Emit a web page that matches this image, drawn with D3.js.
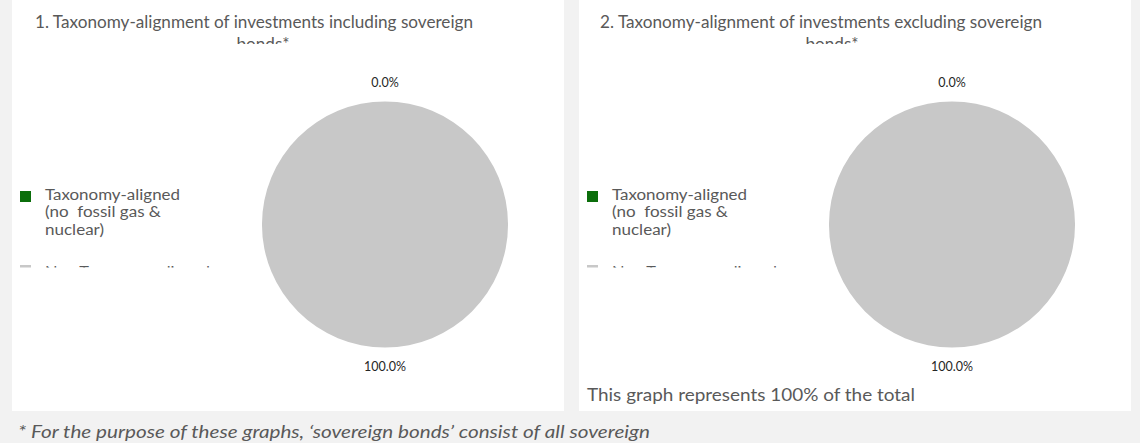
<!DOCTYPE html>
<html>
<head>
<meta charset="utf-8">
<script src="https://cdn.jsdelivr.net/npm/d3@7"></script>
<style>
  body { margin: 0; background: #f2f2f2; }
  text { font-family: Lato, "Open Sans", sans-serif; white-space: pre; }
</style>
</head>
<body>
<div id="chart"></div>
<script>
let categories = ["Taxonomy-aligned (no fossil gas & nuclear)", "Non Taxonomy-aligned"];
let legend_lines = [["Taxonomy-aligned", "(no  fossil gas &", "nuclear)"], ["Non Taxonomy-aligned"]];
let including_values = [0.0, 100.0];
let excluding_values = [0.0, 100.0];
let titles = [
    ["1. Taxonomy-alignment of investments including sovereign", "bonds*"],
    ["2. Taxonomy-alignment of investments excluding sovereign", "bonds*"]
];
let note_text = "This graph represents 100% of the total";
let footnote_text = "* For the purpose of these graphs, \u2018sovereign bonds\u2019 consist of all sovereign";

let color = d3.scaleOrdinal().domain(categories).range(["#0b6e0b", "#c8c8c8"]);

let svg = d3.select("div#chart")
    .append("svg")
    .attr("width", 1140)
    .attr("height", 443);

svg.append("rect").attr("width", 1140).attr("height", 443).attr("fill", "#f2f2f2");

let _default = {
    panel_y: 0,
    panel_w: 552,
    panel_h: 411,
    pie_r: 123,
    label_r: 142,
    text_color: "#595959"
};

// fit a text to the width measured on the reference
let fit = (sel, w) => sel.attr("textLength", w).attr("lengthAdjust", "spacingAndGlyphs");

let panels = [
    {x: 12, values: including_values, title: titles[0], title_w: 438, title_cx: 254, line2_cx: 263, pie_cx: 385},
    {x: 579, values: excluding_values, title: titles[1], title_w: 442, title_cx: 821, line2_cx: 832, pie_cx: 952}
];

let pie = d3.pie().sort(null).value(d => d);
let arc = d3.arc().innerRadius(0).outerRadius(_default.pie_r);
let label_arc = d3.arc().innerRadius(_default.label_r).outerRadius(_default.label_r);
let pie_cy = 224.5;

panels.forEach((p, pi) => {
    svg.append("rect")
        .attr("x", p.x).attr("y", _default.panel_y)
        .attr("width", _default.panel_w).attr("height", _default.panel_h)
        .attr("fill", "white");

    // title, clipped below the first line like the original
    let clip_t = "clipT" + pi;
    svg.append("clipPath").attr("id", clip_t)
        .append("rect").attr("x", p.x).attr("y", 0).attr("width", _default.panel_w).attr("height", 44);
    let tg = svg.append("g").attr("clip-path", `url(#${clip_t})`);
    tg.append("text")
        .attr("x", p.title_cx).attr("y", 28)
        .attr("text-anchor", "middle")
        .attr("font-size", 18)
        .attr("fill", _default.text_color)
        .text(p.title[0])
        .call(fit, p.title_w);
    tg.append("text")
        .attr("x", p.line2_cx).attr("y", 50)
        .attr("text-anchor", "middle")
        .attr("font-size", 18)
        .attr("fill", _default.text_color)
        .text(p.title[1])
        .call(fit, 53);

    // legend, clipped at the second item
    let clip_l = "clipL" + pi;
    svg.append("clipPath").attr("id", clip_l)
        .append("rect").attr("x", p.x).attr("y", 150).attr("width", 230).attr("height", 117.5);
    let lg = svg.append("g").attr("clip-path", `url(#${clip_l})`);
    let lx = p.x + 8;
    let item_y = [191, 265];
    let text_dy = [8.5, 11.5];
    let line_w = [[135, 116, 59], [165]];
    categories.forEach((c, ci) => {
        lg.append("rect")
            .attr("x", lx).attr("y", item_y[ci])
            .attr("width", 11).attr("height", 11)
            .attr("fill", color(c));
        legend_lines[ci].forEach((ln, li) => {
            lg.append("text")
                .attr("x", lx + 25).attr("y", item_y[ci] + text_dy[ci] + li * 17.5)
                .attr("font-size", 14.5)
                .attr("fill", _default.text_color)
                .text(ln)
                .call(fit, line_w[ci][li]);
        });
    });

    // pie
    let g = svg.append("g").attr("transform", `translate(${p.pie_cx}, ${pie_cy})`);
    let arcs = pie(p.values);
    g.selectAll("path").data(arcs).enter().append("path")
        .attr("d", arc)
        .attr("fill", (d, i) => color(categories[i]));
    g.selectAll("text").data(arcs).enter().append("text")
        .attr("transform", d => `translate(${label_arc.centroid(d)})`)
        .attr("text-anchor", "middle")
        .attr("dy", "0.35em")
        .attr("font-size", 12.5)
        .attr("fill", "#262626")
        .text(d => d3.format(".1f")(d.data) + "%");
});

svg.append("text")
    .attr("x", 587).attr("y", 401)
    .attr("font-size", 17)
    .attr("fill", _default.text_color)
    .text(note_text)
    .call(fit, 328);

svg.append("text")
    .attr("x", 18).attr("y", 438)
    .attr("font-size", 17)
    .attr("font-style", "italic")
    .attr("fill", _default.text_color)
    .text(footnote_text)
    .call(fit, 632);
</script>
</body>
</html>
